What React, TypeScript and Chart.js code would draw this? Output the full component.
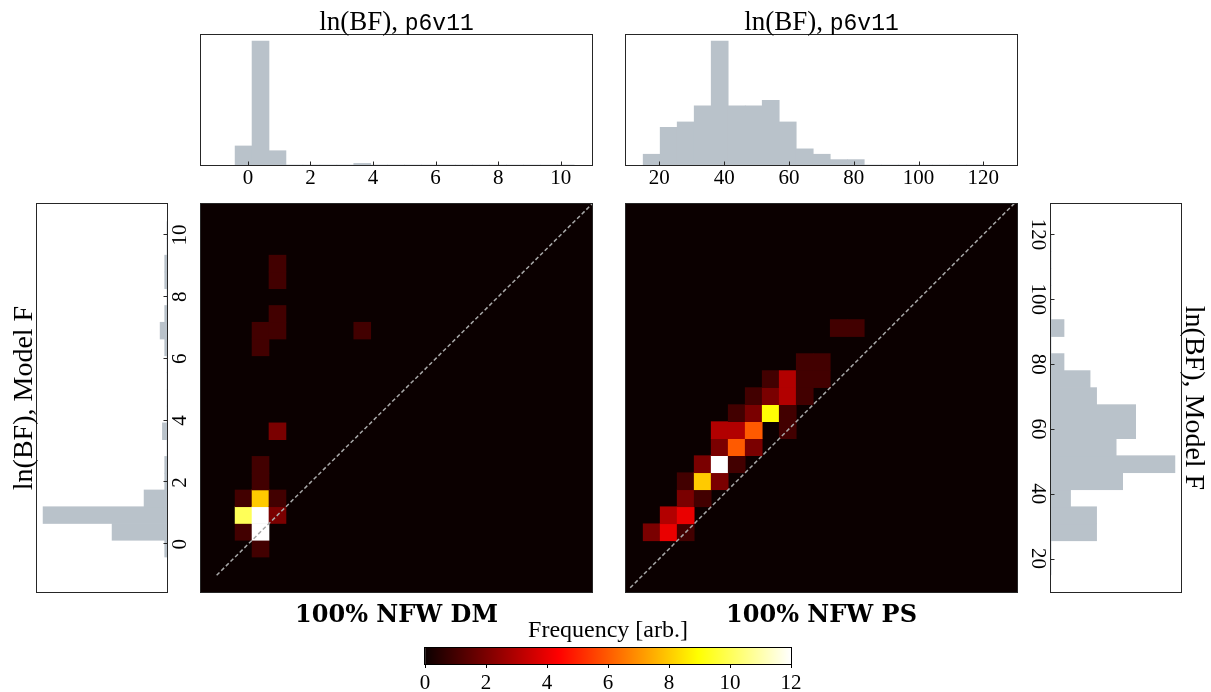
import React, { useEffect, useRef } from 'react';
import { Chart, registerables } from 'chart.js';

Chart.register(...registerables);

// ---------------- values ----------------
// 2D histogram bins (same bins on both axes of a panel)
const DM_BIN_START = -0.41;
const DM_BIN_WIDTH = 0.542;
const PS_BIN_START = 15;
const PS_BIN_WIDTH = 5.25;

// axis limits
const DM_X_LIMITS = [-1.5, 11.0];
const DM_Y_LIMITS = [-1.54, 11.0];
const PS_X_LIMITS = [9.7, 130.4];
const PS_Y_LIMITS = [9.7, 129.4];

// tick labels
const DM_TICKS = [0, 2, 4, 6, 8, 10];
const PS_TICKS = [20, 40, 60, 80, 100, 120];
const CBAR_TICKS = [0, 2, 4, 6, 8, 10, 12];
const CBAR_MAX = 12;

// dashed y = x reference lines (end points)
const DM_DIAGONAL = [-1, 11];
const PS_DIAGONAL = [11, 131];

// 1D histograms (counts per bin)
const DM_P6V11_COUNTS = [12, 78, 9, 0, 0, 0, 0, 1, 0, 0, 0, 0, 0, 0, 0, 0, 0, 0, 0, 0];
const DM_MODELF_COUNTS = [1, 24, 54, 10, 1, 1, 0, 2, 0, 0, 0, 0, 1, 3, 1, 0, 1, 1, 0, 0];
const PS_P6V11_COUNTS = [2, 7, 8, 11, 23, 11, 11, 12, 8, 3, 2, 1, 1, 0, 0, 0, 0, 0, 0, 0];
const PS_MODELF_COUNTS = [0, 0, 7, 7, 3, 11, 19, 10, 13, 13, 7, 6, 2, 0, 2, 0, 0, 0, 0, 0];

// 2D histogram cells: column bin, row bin, count
const DM_CELL_COL = [0, 0, 0, 1, 1, 1, 1, 1, 1, 1, 1, 2, 2, 2, 2, 2, 2, 2, 7];
const DM_CELL_ROW = [1, 2, 3, 0, 1, 2, 3, 4, 5, 12, 13, 2, 3, 7, 13, 14, 16, 17, 13];
const DM_CELL_VAL = [1, 10, 1, 1, 23, 42, 8, 1, 1, 1, 1, 2, 1, 2, 1, 1, 1, 1, 1];

const PS_CELL_COL = [0, 1, 2, 1, 2, 2, 3, 2, 3, 4, 3, 4, 5, 4, 5, 6, 4, 5, 6, 8, 5, 6, 7, 8, 6, 7, 8, 9, 7, 8, 9, 10, 9, 10, 11, 12];
const PS_CELL_ROW = [2, 2, 2, 3, 3, 4, 4, 5, 5, 5, 6, 6, 6, 7, 7, 7, 8, 8, 8, 8, 9, 9, 9, 9, 10, 10, 10, 10, 11, 11, 11, 11, 12, 12, 14, 14];
const PS_CELL_VAL = [2, 4, 1, 3, 4, 2, 1, 1, 8, 2, 2, 16, 1, 2, 6, 2, 3, 3, 6, 1, 1, 2, 9, 1, 1, 2, 3, 1, 1, 3, 1, 1, 1, 1, 1, 1];

// ---------------- styles ----------------
const HIST_COLOR = '#b9c2ca';
const FRAME_COLOR = '#262626';
const DIAG_COLOR = '#a8a8a8';
const SERIF = "'Liberation Serif', 'Times New Roman', serif";
const MONO = "'Liberation Mono', 'DejaVu Sans Mono', monospace";
const BOLD_SERIF = "'DejaVu Serif', serif";
const HOT_KNOTS = [0, 0.365079, 0.746032, 1];

function hot(t: number): string {
  const u = Math.min(1, Math.max(0, t));
  const r = u < HOT_KNOTS[1] ? 0.0416 + (1 - 0.0416) * (u / HOT_KNOTS[1]) : 1;
  const g = u < HOT_KNOTS[1] ? 0 : u < HOT_KNOTS[2] ? (u - HOT_KNOTS[1]) / (HOT_KNOTS[2] - HOT_KNOTS[1]) : 1;
  const b = u < HOT_KNOTS[2] ? 0 : (u - HOT_KNOTS[2]) / (1 - HOT_KNOTS[2]);
  return `rgb(${Math.round(r * 255)},${Math.round(g * 255)},${Math.round(b * 255)})`;
}

const decor = {
  id: 'decor',
  beforeDatasetsDraw(chart: any, _a: any, o: any) {
    if (!o || !o.bg) return;
    const { ctx, chartArea: a } = chart;
    ctx.save();
    ctx.fillStyle = o.bg;
    ctx.fillRect(a.left, a.top, a.right - a.left, a.bottom - a.top);
    ctx.restore();
  },
  afterDraw(chart: any, _a: any, o: any) {
    if (!o) return;
    const { ctx, chartArea: a } = chart;
    ctx.save();
    if (o.ticksIn) {
      const s = chart.scales.x;
      ctx.strokeStyle = FRAME_COLOR;
      ctx.lineWidth = 1;
      ctx.beginPath();
      for (const t of s.ticks) {
        const x = Math.round(s.getPixelForValue(t.value)) + 0.5;
        ctx.moveTo(x, a.bottom);
        ctx.lineTo(x, a.bottom - o.ticksIn);
      }
      ctx.stroke();
    }
    if (o.frame) {
      ctx.strokeStyle = o.frame;
      ctx.lineWidth = 1;
      const l = Math.round(a.left), t = Math.round(a.top);
      const w = Math.round(a.right) - l, h = Math.round(a.bottom) - t;
      ctx.strokeRect(l - 0.5, t - 0.5, w + 1, h + 1);
    }
    if (o.title) {
      const parts = o.title.parts;
      let total = 0;
      for (const p of parts) {
        ctx.font = p.font;
        total += ctx.measureText(p.text).width;
      }
      let x = (a.left + a.right) / 2 - total / 2;
      const y = a.top - o.title.gap;
      ctx.fillStyle = '#000';
      ctx.textBaseline = 'alphabetic';
      ctx.textAlign = 'left';
      for (const p of parts) {
        ctx.font = p.font;
        ctx.fillText(p.text, x, y);
        x += ctx.measureText(p.text).width;
      }
    }
    ctx.restore();
  },
};

function histConfig(p: any): any {
  const data = p.counts.map((c: number, i: number) => ({ x: p.start + (i + 0.5) * p.width, y: c }));
  const ymax = Math.max(...p.counts) * 1.05;
  return {
    type: 'bar',
    data: {
      datasets: [
        { data, backgroundColor: HIST_COLOR, borderWidth: 0, barPercentage: 1, categoryPercentage: 1 },
      ],
    },
    options: {
      responsive: false,
      animation: false,
      events: [],
      layout: { padding: { left: p.pad.left, right: p.pad.right, top: p.pad.top, bottom: 0 } },
      plugins: {
        legend: { display: false },
        tooltip: { enabled: false },
        decor: { frame: FRAME_COLOR, ticksIn: 3.5, title: p.title },
      },
      scales: {
        x: {
          type: 'linear',
          min: p.limits[0],
          max: p.limits[1],
          reverse: !!p.reverse,
          offset: false,
          grid: { display: false, drawTicks: false },
          border: { display: false },
          ticks: { color: '#000', font: { family: SERIF, size: 21 }, padding: 1, maxRotation: 0, autoSkip: false },
          afterBuildTicks: (s: any) => {
            s.ticks = p.ticks.map((v: number) => ({ value: v }));
          },
          afterFit: (s: any) => {
            s.height = p.axisH;
          },
        },
        y: { display: false, min: 0, max: ymax },
      },
    },
    plugins: [decor],
  };
}

function heatConfig(p: any): any {
  const cells = p.vals.map((v: number, i: number) => ({
    x: p.start + (p.cols[i] + 0.5) * p.width,
    y: [p.start + p.rows[i] * p.width, p.start + (p.rows[i] + 1) * p.width],
    v,
  }));
  return {
    type: 'bar',
    data: {
      datasets: [
        {
          type: 'line',
          data: [
            { x: p.diag[0], y: p.diag[0] },
            { x: p.diag[1], y: p.diag[1] },
          ],
          borderColor: DIAG_COLOR,
          borderWidth: 1.5,
          borderDash: [4, 2.5],
          pointRadius: 0,
          fill: false,
          order: 0,
        },
        {
          type: 'bar',
          data: cells,
          backgroundColor: (c: any) => hot(((c.raw && c.raw.v) || 0) / CBAR_MAX),
          borderWidth: 0,
          barPercentage: 1,
          categoryPercentage: 1,
          order: 1,
        },
      ],
    },
    options: {
      responsive: false,
      animation: false,
      events: [],
      layout: { padding: { left: 11, right: 10, top: 10, bottom: 0 } },
      plugins: {
        legend: { display: false },
        tooltip: { enabled: false },
        decor: { bg: hot(0), frame: FRAME_COLOR },
      },
      scales: {
        x: {
          type: 'linear',
          min: p.xlim[0],
          max: p.xlim[1],
          offset: false,
          grid: { display: false, drawTicks: false },
          border: { display: false },
          ticks: { display: false },
          afterBuildTicks: (s: any) => {
            s.ticks = p.ticks.map((v: number) => ({ value: v }));
          },
          afterFit: (s: any) => {
            s.height = 38;
          },
          title: {
            display: true,
            text: p.label,
            color: '#000',
            font: { family: BOLD_SERIF, size: 24, weight: 'bold', lineHeight: 1.2 },
            padding: 0,
          },
        },
        y: { type: 'linear', display: false, min: p.ylim[0], max: p.ylim[1] },
      },
    },
    plugins: [decor],
  };
}

function cbarConfig(): any {
  return {
    type: 'bar',
    data: {
      labels: ['Frequency'],
      datasets: [
        {
          data: [[0, CBAR_MAX]],
          backgroundColor: (c: any) => {
            const chart = c.chart;
            const xs = chart.scales && chart.scales.x;
            if (!chart.chartArea || !xs) return hot(0.5);
            const x0 = xs.getPixelForValue(0);
            const x1 = xs.getPixelForValue(CBAR_MAX);
            const g = chart.ctx.createLinearGradient(x0, 0, x1, 0);
            for (const k of HOT_KNOTS) g.addColorStop(k, hot(k));
            return g;
          },
          borderWidth: 0,
          barPercentage: 1,
          categoryPercentage: 1,
        },
      ],
    },
    options: {
      indexAxis: 'y',
      responsive: false,
      animation: false,
      events: [],
      layout: { padding: { left: 30, right: 34, top: 48, bottom: 0 } },
      plugins: {
        legend: { display: false },
        tooltip: { enabled: false },
        decor: { frame: '#000', title: { parts: [{ text: 'Frequency [arb.]', font: `24px ${SERIF}` }], gap: 11 } },
      },
      scales: {
        x: {
          type: 'linear',
          position: 'bottom',
          min: 0,
          max: CBAR_MAX,
          grid: { display: true, drawOnChartArea: false, drawTicks: true, tickLength: 4, tickColor: '#000', tickWidth: 1 },
          border: { display: false },
          ticks: { color: '#000', font: { family: SERIF, size: 21 }, padding: 3, maxRotation: 0, autoSkip: false },
          afterBuildTicks: (s: any) => {
            s.ticks = CBAR_TICKS.map((v) => ({ value: v }));
          },
          afterFit: (s: any) => {
            s.height = 28;
          },
        },
        y: { type: 'category', display: false },
      },
    },
    plugins: [decor],
  };
}

function Panel(props: { make: () => any; left: number; top: number; width: number; height: number; rotate?: number }) {
  const ref = useRef<HTMLCanvasElement>(null);
  useEffect(() => {
    const chart = new Chart(ref.current as HTMLCanvasElement, props.make());
    return () => chart.destroy();
  }, []);
  return (
    <canvas
      ref={ref}
      width={props.width}
      height={props.height}
      style={{
        position: 'absolute',
        left: props.left,
        top: props.top,
        width: props.width,
        height: props.height,
        transform: props.rotate ? `rotate(${props.rotate}deg)` : undefined,
      }}
    />
  );
}

const topTitle = {
  parts: [
    { text: 'ln(BF), ', font: `27px ${SERIF}` },
    { text: 'p6v11', font: `23px ${MONO}` },
  ],
  gap: 5,
};
const sideTitle = { parts: [{ text: 'ln(BF), Model F', font: `28px ${SERIF}` }], gap: 5 };

export default function App() {
  return (
    <div style={{ position: 'absolute', left: 0, top: 0, width: 1211, height: 692, background: '#fff', overflow: 'hidden' }}>
      <Panel
        left={190}
        top={194}
        width={412}
        height={436}
        make={() =>
          heatConfig({
            cols: DM_CELL_COL, rows: DM_CELL_ROW, vals: DM_CELL_VAL,
            start: DM_BIN_START, width: DM_BIN_WIDTH,
            xlim: DM_X_LIMITS, ylim: DM_Y_LIMITS, ticks: DM_TICKS,
            diag: DM_DIAGONAL, label: '100% NFW DM',
          })
        }
      />
      <Panel
        left={615}
        top={194}
        width={412}
        height={436}
        make={() =>
          heatConfig({
            cols: PS_CELL_COL, rows: PS_CELL_ROW, vals: PS_CELL_VAL,
            start: PS_BIN_START, width: PS_BIN_WIDTH,
            xlim: PS_X_LIMITS, ylim: PS_Y_LIMITS, ticks: PS_TICKS,
            diag: PS_DIAGONAL, label: '100% NFW PS',
          })
        }
      />
      <Panel
        left={150}
        top={0}
        width={490}
        height={200}
        make={() =>
          histConfig({
            counts: DM_P6V11_COUNTS, start: DM_BIN_START, width: DM_BIN_WIDTH,
            limits: DM_X_LIMITS, ticks: DM_TICKS,
            pad: { left: 51, right: 48, top: 35 }, axisH: 35, title: topTitle,
          })
        }
      />
      <Panel
        left={575}
        top={0}
        width={490}
        height={200}
        make={() =>
          histConfig({
            counts: PS_P6V11_COUNTS, start: PS_BIN_START, width: PS_BIN_WIDTH,
            limits: PS_X_LIMITS, ticks: PS_TICKS,
            pad: { left: 51, right: 48, top: 35 }, axisH: 35, title: topTitle,
          })
        }
      />
      <Panel
        left={-122}
        top={288}
        width={448}
        height={220}
        rotate={-90}
        make={() =>
          histConfig({
            counts: DM_MODELF_COUNTS, start: DM_BIN_START, width: DM_BIN_WIDTH,
            limits: DM_Y_LIMITS, ticks: DM_TICKS,
            pad: { left: 30, right: 30, top: 45 }, axisH: 45, title: sideTitle,
          })
        }
      />
      <Panel
        left={892}
        top={288}
        width={448}
        height={220}
        rotate={90}
        make={() =>
          histConfig({
            counts: PS_MODELF_COUNTS, start: PS_BIN_START, width: PS_BIN_WIDTH,
            limits: PS_Y_LIMITS, ticks: PS_TICKS, reverse: true,
            pad: { left: 30, right: 30, top: 45 }, axisH: 45, title: sideTitle,
          })
        }
      />
      <Panel left={395} top={600} width={430} height={92} make={cbarConfig} />
    </div>
  );
}
